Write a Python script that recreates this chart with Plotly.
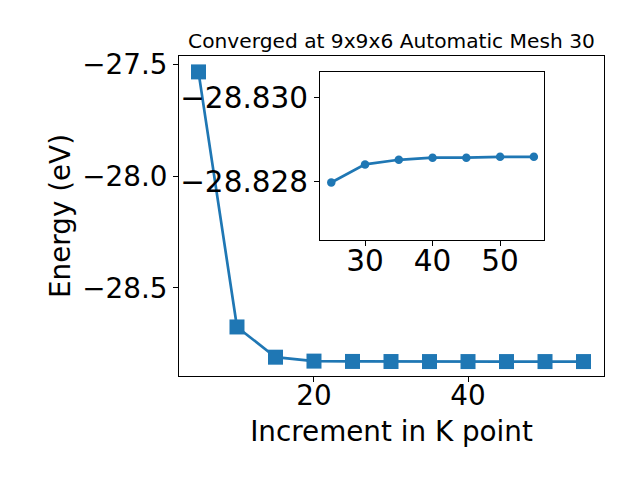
import plotly.graph_objects as go

# K point increments and total energies (eV)
kpoints = [5, 10, 15, 20, 25, 30, 35, 40, 45, 50, 55]
energy = [-27.535, -28.674, -28.809, -28.8265, -28.82797, -28.82840, -28.82851,
          -28.82856, -28.82856, -28.82858, -28.82858]

# zoomed-in part shown in the inset
inset_k = kpoints[4:]
inset_energy = energy[4:]

blue = '#1f77b4'
font = 'DejaVu Sans'
W, H = 640, 480


def px_x(a, b):
    return [a / W, b / W]


def px_y(top, bottom):
    return [1 - bottom / H, 1 - top / H]


fig = go.Figure()

fig.add_trace(go.Scatter(
    x=kpoints, y=energy, mode='lines+markers',
    line=dict(color=blue, width=2.7),
    marker=dict(symbol='square', size=15, color=blue),
    xaxis='x', yaxis='y'
))

fig.add_trace(go.Scatter(
    x=inset_k, y=inset_energy, mode='lines+markers',
    line=dict(color=blue, width=2.7),
    marker=dict(symbol='circle', size=8.5, color=blue),
    xaxis='x2', yaxis='y2'
))

axis_style = dict(
    showline=True, linecolor='black', linewidth=1, mirror=True,
    ticks='outside', ticklen=5, tickwidth=1, tickcolor='black',
    showgrid=False, zeroline=False, automargin=False,
)

fig.update_layout(
    width=W, height=H,
    margin=dict(l=0, r=0, t=0, b=0),
    paper_bgcolor='white', plot_bgcolor='white',
    showlegend=False,
    font=dict(family=font, color='black'),
    title=dict(text='Converged at 9x9x6 Automatic Mesh 30',
               font=dict(family=font, size=20.2, color='black'),
               x=391.5 / W, xanchor='center',
               y=1 - 41 / H, yanchor='middle'),
    xaxis=dict(domain=px_x(179, 604), range=[2.47, 57.66],
               tickvals=[20, 40], ticklabelstandoff=-10,
               tickfont=dict(family=font, size=27.8, color='black'),
               title=dict(text='Increment in K point', font=dict(size=27.8), standoff=10),
               **axis_style),
    yaxis=dict(domain=px_y(56, 376), range=[-28.893, -27.464],
               tickvals=[-27.5, -28.0, -28.5], tickformat='.1f',
               tickfont=dict(family=font, size=27.8, color='black'),
               title=dict(text='Energy (eV)', font=dict(size=27.8), standoff=3),
               **axis_style),
    xaxis2=dict(domain=px_x(320, 544), range=[23.33, 56.5], anchor='y2',
                tickvals=[30, 40, 50], ticklabelstandoff=-10,
                tickfont=dict(family=font, size=29.5, color='black'),
                **axis_style),
    yaxis2=dict(domain=px_y(72, 240), range=[-28.8266, -28.8306], anchor='x2',
                tickvals=[-28.830, -28.828], tickformat='.3f',
                tickfont=dict(family=font, size=29.5, color='black'),
                **axis_style),
)

# pin the figure to the page origin
pin = ("document.body.style.margin='0';"
       "var d=document.getElementsByClassName('plotly-graph-div')[0];"
       "d.style.position='absolute';d.style.left='0px';d.style.top='0px';")
fig.write_html('out.html', config={'displayModeBar': False}, post_script=pin)
